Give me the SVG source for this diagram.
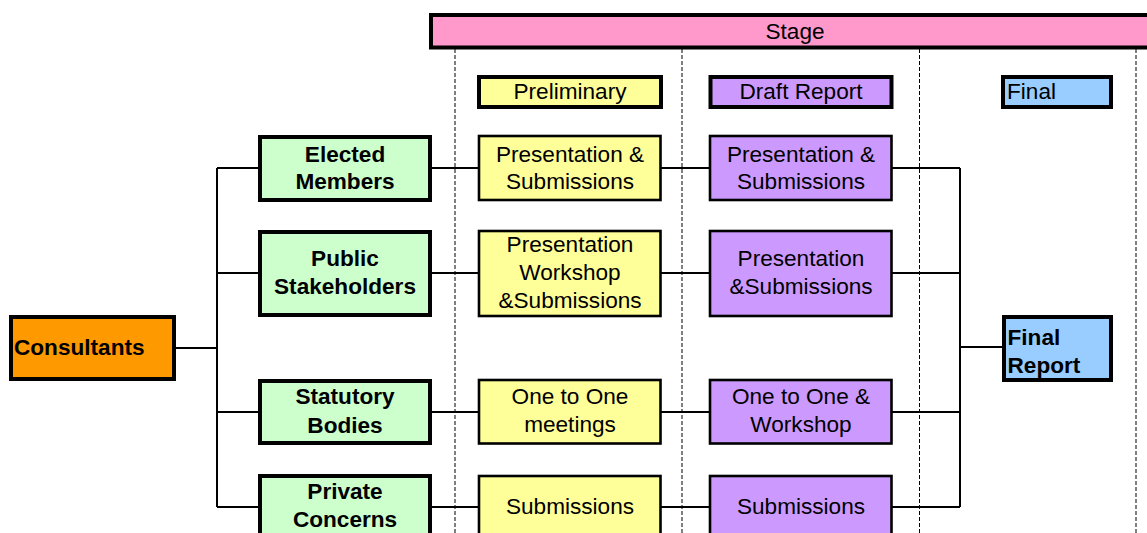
<svg xmlns="http://www.w3.org/2000/svg" width="1147" height="533" viewBox="0 0 1147 533">
<style>
text{font-family:"Liberation Sans",Arial,sans-serif;font-size:22.6px;fill:#000}
.b{font-weight:bold}
.c{text-anchor:middle}
.hdr{stroke:#000;stroke-width:4}
.box{stroke:#000;stroke-width:2.6}
.thick{stroke:#000;stroke-width:4}
.yel{fill:#FFFF99}.pur{fill:#CC99FF}.grn{fill:#CCFFCC}.org{fill:#FF9900}.blu{fill:#99CCFF}.pnk{fill:#FF99CC}
.dg{stroke:#555;stroke-width:1.5;stroke-dasharray:4 2;fill:none}
.dk{stroke:#000;stroke-width:1;stroke-dasharray:4 2;fill:none}
.con{stroke:#000;stroke-width:2;fill:none}
</style>
<rect width="1147" height="533" fill="#fff"/>
<g id="gridlines">
<line class="dg" x1="455" y1="49" x2="455" y2="533"/>
<line class="dg" x1="682" y1="49" x2="682" y2="533"/>
<line class="dk" x1="919.5" y1="49" x2="919.5" y2="533"/>
<line class="dg" x1="1136" y1="49" x2="1136" y2="533"/>
</g>
<g id="connectors">
<path class="con" d="M176 348 H217 M217 168 V507 M217 168 H260 M217 273 H260 M217 412 H260 M217 507 H260"/>
<path class="con" d="M430 168 H478 M430 273 H478 M430 412 H478 M430 507 H478"/>
<path class="con" d="M661 168 H709 M661 273 H709 M661 412 H709 M661 507 H709"/>
<path class="con" d="M892 168 H960 M892 273 H960 M892 412 H960 M892 507 H960 M960 168 V507 M960 347 H1002"/>
</g>
<g id="stage"><rect class="pnk hdr" x="431" y="15" width="740" height="32.5"/><text class="c" x="795" y="38.5">Stage</text></g>
<g id="preliminary"><rect class="yel hdr" x="479" y="77" width="182" height="30"/><text class="c" x="570" y="98.5">Preliminary</text></g>
<g id="draft-report"><rect class="pur hdr" x="710.5" y="77" width="181" height="30"/><text class="c" x="801" y="98.5">Draft Report</text></g>
<g id="final"><rect class="blu hdr" x="1003" y="77" width="108" height="30"/><text x="1007" y="98.5">Final</text></g>
<g id="consultants"><rect class="org thick" x="11" y="317" width="163" height="62"/><text class="b" x="14" y="355">Consultants</text></g>
<g id="elected-members"><rect class="grn thick" x="260" y="137" width="170" height="63"/><text class="b c" x="345" y="162">Elected</text><text class="b c" x="345" y="189">Members</text></g>
<g id="public-stakeholders"><rect class="grn thick" x="260" y="232" width="170" height="83"/><text class="b c" x="345" y="266">Public</text><text class="b c" x="345" y="294">Stakeholders</text></g>
<g id="statutory-bodies"><rect class="grn thick" x="260" y="381" width="170" height="62"/><text class="b c" x="345" y="404">Statutory</text><text class="b c" x="345" y="433">Bodies</text></g>
<g id="private-concerns"><rect class="grn thick" x="260" y="476" width="170" height="80"/><text class="b c" x="345" y="499">Private</text><text class="b c" x="345" y="527">Concerns</text></g>
<g id="prelim-elected"><rect class="yel box" x="479" y="136" width="181.5" height="64"/><text class="c" x="570" y="161.5">Presentation &amp;</text><text class="c" x="570" y="188.5">Submissions</text></g>
<g id="prelim-public"><rect class="yel box" x="479" y="231" width="181.5" height="85"/><text class="c" x="570" y="252">Presentation</text><text class="c" x="570" y="280">Workshop</text><text class="c" x="570" y="307.5">&amp;Submissions</text></g>
<g id="prelim-statutory"><rect class="yel box" x="479" y="380" width="181.5" height="63.5"/><text class="c" x="570" y="404">One to One</text><text class="c" x="570" y="431.5">meetings</text></g>
<g id="prelim-private"><rect class="yel box" x="479" y="476" width="181.5" height="80"/><text class="c" x="570" y="513.5">Submissions</text></g>
<g id="draft-elected"><rect class="pur box" x="710" y="136" width="181.5" height="64"/><text class="c" x="801" y="161.5">Presentation &amp;</text><text class="c" x="801" y="188.5">Submissions</text></g>
<g id="draft-public"><rect class="pur box" x="710" y="231" width="181.5" height="85"/><text class="c" x="801" y="266">Presentation</text><text class="c" x="801" y="293.5">&amp;Submissions</text></g>
<g id="draft-statutory"><rect class="pur box" x="710" y="380" width="181.5" height="63.5"/><text class="c" x="801" y="404">One to One &amp;</text><text class="c" x="801" y="431.5">Workshop</text></g>
<g id="draft-private"><rect class="pur box" x="710" y="476" width="181.5" height="80"/><text class="c" x="801" y="513.5">Submissions</text></g>
<g id="final-report"><rect class="blu thick" x="1004" y="317" width="107" height="63"/><text class="b" x="1007.5" y="345">Final</text><text class="b" x="1007.5" y="373">Report</text></g>
</svg>
